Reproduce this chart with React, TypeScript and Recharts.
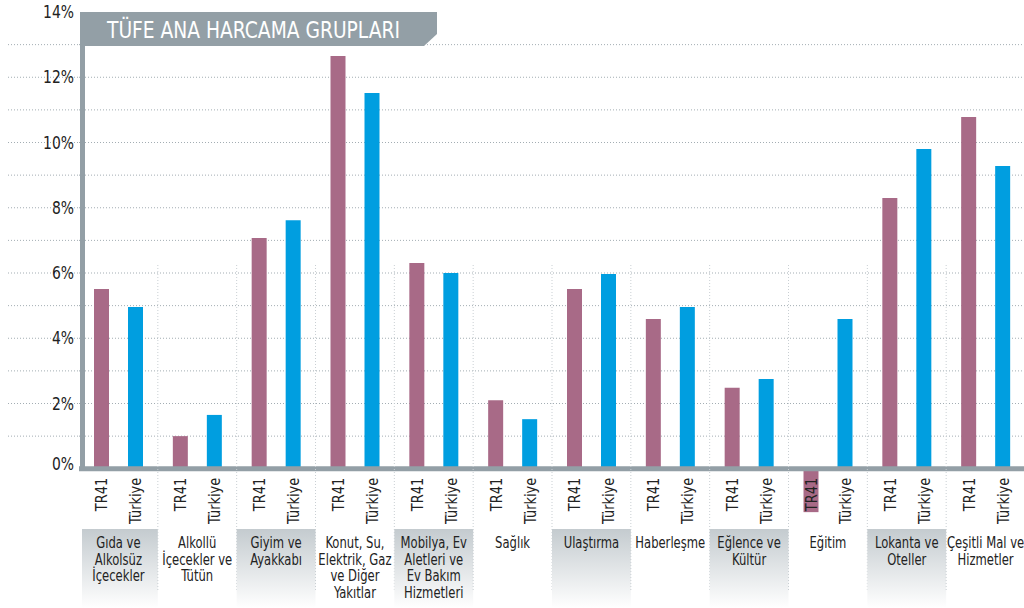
import React from 'react';
import { BarChart, Bar, XAxis, YAxis, CartesianGrid, ReferenceLine } from 'recharts';

const FONT = '"Liberation Sans Narrow", "DejaVu Sans Condensed", "Roboto", sans-serif';

// category labels, one entry per line
const categories = [
  ['Gıda ve', 'Alkolsüz', 'İçecekler'],
  ['Alkollü', 'İçecekler ve', 'Tütün'],
  ['Giyim ve', 'Ayakkabı'],
  ['Konut, Su,', 'Elektrik, Gaz', 've Diğer', 'Yakıtlar'],
  ['Mobilya, Ev', 'Aletleri ve', 'Ev Bakım', 'Hizmetleri'],
  ['Sağlık'],
  ['Ulaştırma'],
  ['Haberleşme'],
  ['Eğlence ve', 'Kültür'],
  ['Eğitim'],
  ['Lokanta ve', 'Oteller'],
  ['Çeşitli Mal ve', 'Hizmetler'],
];

const tr41 = [5.51, 1.0, 7.07, 12.65, 6.31, 2.1, 5.51, 4.59, 2.48, -1.33, 8.3, 10.78];
const turkiye = [4.96, 1.65, 7.62, 11.52, 6.0, 1.52, 5.97, 4.96, 2.75, 4.59, 9.8, 9.28];

const yTicks = [0, 1, 2, 3, 4, 5, 6, 7, 8, 9, 10, 11, 12, 13, 14];
const gridValues = [1, 2, 3, 4, 5, 6, 7, 8, 9, 10, 11, 12, 13];

const seriesNames = ['TR41', 'Türkiye'];
const shadedGroups = [0, 2, 4, 6, 8, 10];

const data = categories.map((lines, i) => ({
  name: lines.join(' '),
  lines,
  tr41: tr41[i],
  turkiye: turkiye[i],
}));

const PINK = '#a86a87';
const BLUE = '#009ee0';
const AXIS = '#939fa6';
const GRID = '#a3adb3';

const CHART_W = 1025;
const CHART_H = 608;
const TOP = 12;
const X_H = 74;
const LEFT = 79;
const BAND = (CHART_W - LEFT) / categories.length;
const PX_PER = (CHART_H - TOP - X_H) / 16;

function YTick(props: any) {
  const { x, y, payload } = props;
  const v = payload.value;
  const ty = (v === 0 ? y - 5 : y) + 6;
  return (
    <g>
      {v >= 1 && v <= 13 && (
        <line x1={8} x2={x} y1={y} y2={y} stroke={GRID} strokeDasharray="1 2" />
      )}
      {v % 2 === 0 && (
        <g transform={`translate(${x - 5} ${ty}) scale(0.86 1)`}>
          <text x={0} y={0} textAnchor="end" fontFamily={FONT} fontSize={18} fill="#222">
            {v}%
          </text>
        </g>
      )}
    </g>
  );
}

function XTick(props: any) {
  const { x, y, index } = props;
  const row = data[index];
  if (!row) return null;
  const zeroY = y - 2 * PX_PER;
  const boxTop = y - 5;
  const shaded = shadedGroups.includes(index);
  const left = Math.max(x - BAND / 2, 82);
  return (
    <g>
      {shaded && (
        <rect x={left} y={boxTop} width={x + BAND / 2 - left} height={CHART_H - boxTop} fill="url(#boxGrad)" />
      )}
      {index < categories.length - 1 && (
        <line
          x1={x + BAND / 2}
          x2={x + BAND / 2}
          y1={y - 269}
          y2={y + 58}
          stroke="#c9cfd3"
          strokeDasharray="1 2"
        />
      )}
      {seriesNames.map((s, k) => {
        const cx = x + (k === 0 ? -17 : 17) + 6;
        const ty = zeroY + 9;
        return (
          <g key={s} transform={`translate(${cx} ${ty}) rotate(-90) scale(0.9 1)`}>
            <text x={0} y={0} textAnchor="end" fontFamily={FONT} fontSize={16} fill="#222">
              {s}
            </text>
          </g>
        );
      })}
      {row.lines.map((ln: string, k: number) => (
        <g key={k} transform={`translate(${x} ${y + 14 + k * 16.7}) scale(0.86 1)`}>
          <text x={0} y={0} textAnchor="middle" fontFamily={FONT} fontSize={15} fill="#222">
            {ln}
          </text>
        </g>
      ))}
    </g>
  );
}

export default function App() {
  return (
    <div style={{ position: 'absolute', left: 0, top: 0, width: 1024, height: 608, overflow: 'hidden', background: '#fff' }}>
      <BarChart
        width={CHART_W}
        height={CHART_H}
        data={data}
        margin={{ top: TOP, right: 0, bottom: 0, left: 0 }}
        barSize={15}
        barGap={19}
      >
        <defs>
          <linearGradient id="boxGrad" x1="0" y1="0" x2="0" y2="1">
            <stop offset="0%" stopColor="#c4cbcf" />
            <stop offset="100%" stopColor="#ffffff" />
          </linearGradient>
        </defs>
        <CartesianGrid
          vertical={false}
          horizontalValues={gridValues}
          stroke={GRID}
          strokeDasharray="1 2"
        />
        <YAxis
          width={LEFT}
          domain={[-2, 14]}
          ticks={yTicks}
          interval={0}
          axisLine={false}
          tickLine={false}
          tickSize={0}
          tickMargin={0}
          tick={<YTick />}
        />
        <XAxis
          dataKey="name"
          height={X_H}
          interval={0}
          axisLine={false}
          tickLine={false}
          tickSize={0}
          tickMargin={0}
          tick={<XTick />}
        />
        <Bar dataKey="tr41" name="TR41" fill={PINK} isAnimationActive={false} />
        <Bar dataKey="turkiye" name="Türkiye" fill={BLUE} isAnimationActive={false} />
        <ReferenceLine y={0} stroke={AXIS} strokeWidth={5} />
      </BarChart>
      <svg
        width={1024}
        height={608}
        style={{ position: 'absolute', left: 0, top: 0, pointerEvents: 'none' }}
      >
        <path d="M80,12 H437 V34 L424,46 H80 Z" fill={AXIS} />
        <rect x={80} y={12} width={5} height={459} fill={AXIS} />
        <text x={107} y={38} fontFamily={FONT} fontSize={23} fill="#fff" textLength={293} lengthAdjust="spacingAndGlyphs">
          TÜFE ANA HARCAMA GRUPLARI
        </text>
      </svg>
    </div>
  );
}
